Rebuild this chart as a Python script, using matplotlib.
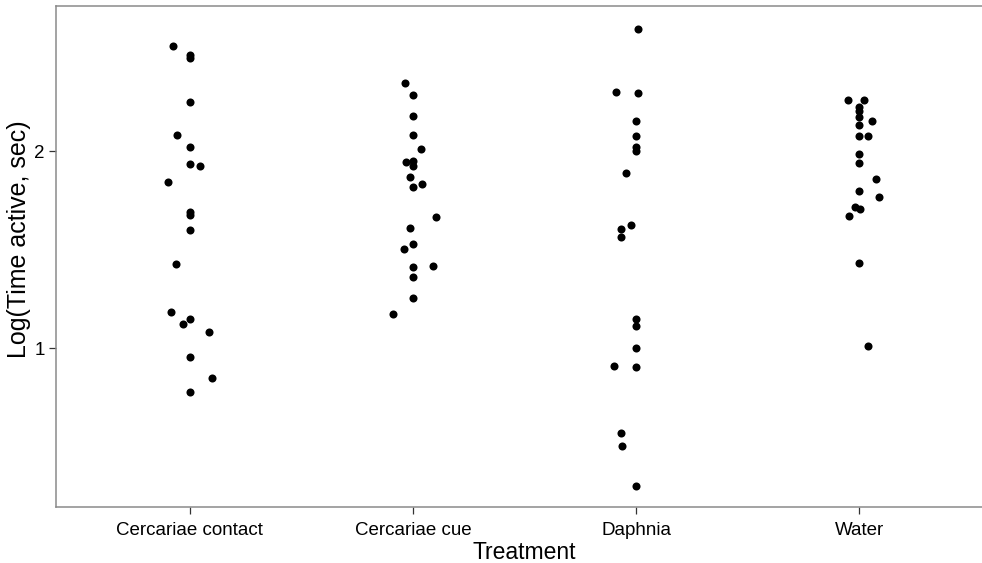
import numpy as np
import matplotlib
matplotlib.use("Agg")
import matplotlib.pyplot as plt

plt.rcParams['font.family'] = ['Liberation Sans', 'DejaVu Sans']

# ---- data (jitter offsets in category units) ----
treatments = ["Cercariae contact", "Cercariae cue", "Daphnia", "Water"]

contact_y = [2.532, 2.489, 2.474, 2.250, 2.081, 2.020, 1.934, 1.925, 1.844, 1.691,
             1.676, 1.600, 1.427, 1.186, 1.149, 1.125, 1.083, 0.954, 0.851, 0.780]
contact_dx = [-0.078, 0, 0, 0, -0.060, 0, 0, 0.045, -0.099, 0,
              0, 0, -0.061, -0.084, 0, -0.031, 0.084, 0, 0.099, 0]

cue_y = [2.345, 2.285, 2.177, 2.083, 2.009, 1.946, 1.951, 1.925, 1.870, 1.831,
         1.818, 1.665, 1.611, 1.530, 1.502, 1.416, 1.414, 1.360, 1.253, 1.175]
cue_dx = [-0.037, 0, 0, 0, 0.037, -0.031, 0, 0, -0.012, 0.040,
          0, 0.102, -0.016, 0, -0.040, 0.088, 0, 0, 0, -0.091]

daphnia_y = [2.617, 2.299, 2.292, 2.154, 2.076, 2.019, 2.000, 1.890, 1.626, 1.606,
             1.563, 1.149, 1.113, 1.000, 0.910, 0.904, 0.569, 0.503, 0.304]
daphnia_dx = [0.006, -0.090, 0.009, 0, 0, 0, 0, -0.045, -0.022, -0.070,
              -0.067, 0, 0, 0, -0.101, 0, -0.069, -0.064, 0]

water_y = [2.257, 2.257, 2.225, 2.203, 2.174, 2.150, 2.133, 2.076, 2.076, 1.985,
           1.938, 1.858, 1.797, 1.765, 1.715, 1.705, 1.671, 1.431, 1.013]
water_dx = [-0.052, 0.022, 0, 0, 0, 0.054, 0, 0, 0.036, 0,
            0, 0.074, 0, 0.088, -0.021, 0.003, -0.049, 0, 0.038]

groups = [(contact_dx, contact_y), (cue_dx, cue_y),
          (daphnia_dx, daphnia_y), (water_dx, water_y)]

# ---- figure ----
fig = plt.figure(figsize=(9.82, 5.63), dpi=100)
# panel runs slightly past the right edge of the image (cropped like the reference)
ax = fig.add_axes([56 / 982, 56 / 563, 937.4 / 982, 501 / 563])

for i, (dx, y) in enumerate(groups):
    x = (i + 1) + np.array(dx)
    ax.plot(x, y, 'o', color='black', markersize=5.8, markeredgewidth=0, zorder=3)

ax.set_xlim(0.4, 4.6)
ax.set_ylim(0.196, 2.735)
ax.set_xticks(range(1, len(treatments) + 1))
ax.set_xticklabels(treatments)
ax.set_yticks([1, 2])
ax.set_yticklabels(["1", "2"])

for side in ['left', 'bottom', 'top']:
    ax.spines[side].set_color('#8a8a8a')
    ax.spines[side].set_linewidth(1.1)
ax.spines['right'].set_visible(False)

ax.tick_params(axis='both', length=5, width=0.9, color='#333333',
               labelsize=13.5, labelcolor='black')
ax.tick_params(axis='x', pad=6)
ax.tick_params(axis='y', pad=3)

ax.set_xlabel("Treatment", fontsize=16.5)
ax.xaxis.set_label_coords(0.5, -0.068)
ax.set_ylabel("Log(Time active, sec)", fontsize=18)
ax.yaxis.set_label_coords(-0.027, 0.535)

fig.savefig("out.png", dpi=100)
